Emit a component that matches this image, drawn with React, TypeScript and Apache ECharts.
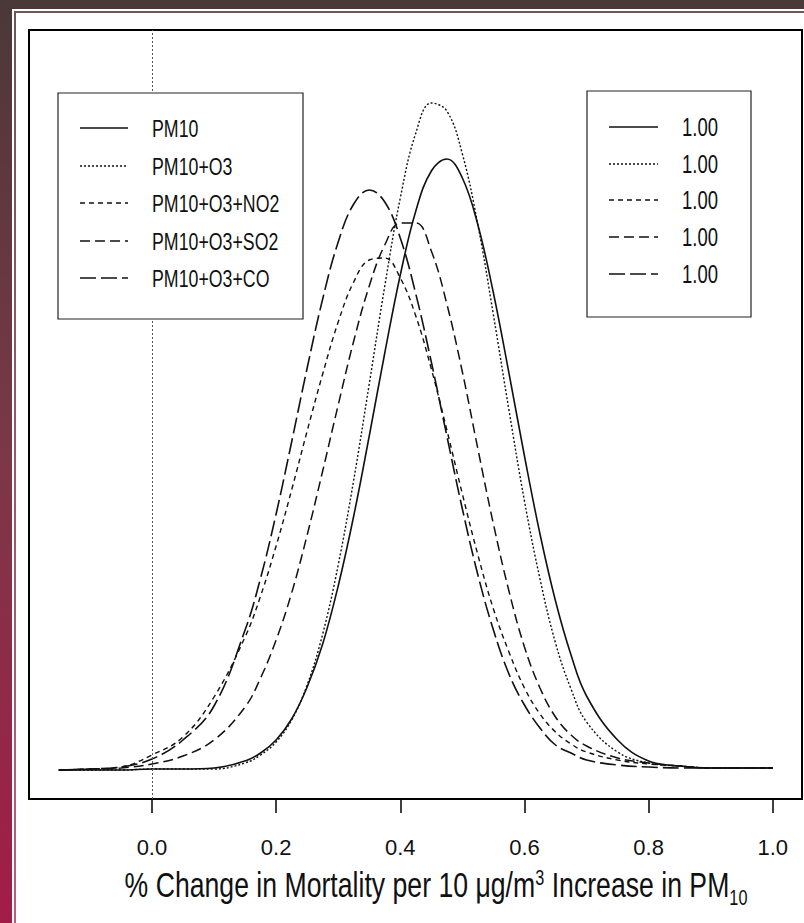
import React, { useEffect, useRef } from "react";
import * as echarts from "echarts";

// ---- data ----
const xValues = [
  -0.15, -0.1, -0.05, 0.0, 0.05, 0.1,
  0.15, 0.175, 0.2, 0.225, 0.25, 0.275, 0.3, 0.325, 0.35, 0.375, 0.4, 0.425, 0.45, 0.475,
  0.5, 0.525, 0.55, 0.575, 0.6, 0.625, 0.65, 0.675, 0.7,
  0.75, 0.8, 0.85, 0.9, 0.95, 1.0,
];

const pm10 = [
  0, 0, 0, 0.01, 0.01, 0.02,
  0.09, 0.17, 0.3, 0.51, 0.83, 1.26, 1.84, 2.54, 3.34, 4.17, 4.95, 5.59, 5.99, 6.11,
  5.92, 5.45, 4.77, 3.97, 3.14, 2.36, 1.69, 1.15, 0.74,
  0.3, 0.09, 0.04, 0.02, 0.02, 0.02,
];
const pm10O3 = [
  0, 0, 0, 0.01, 0.01, 0.01,
  0.07, 0.15, 0.28, 0.5, 0.85, 1.36, 2.05, 2.9, 3.86, 4.84, 5.72, 6.37, 6.67, 6.59,
  6.16, 5.45, 4.55, 3.6, 2.69, 1.91, 1.27, 0.81, 0.48,
  0.18, 0.07, 0.04, 0.02, 0.02, 0.02,
];
const pm10O3NO2 = [
  0, 0.01, 0.03, 0.15, 0.33, 0.73,
  1.33, 1.74, 2.24, 2.8, 3.39, 3.96, 4.48, 4.88, 5.1, 5.12, 4.92, 4.54, 4.01, 3.4,
  2.76, 2.15, 1.61, 1.18, 0.82, 0.56, 0.38, 0.26, 0.18,
  0.1, 0.06, 0.04, 0.02, 0.02, 0.02,
];
const pm10O3SO2 = [
  0, 0.01, 0.02, 0.06, 0.14, 0.3,
  0.63, 0.92, 1.3, 1.77, 2.35, 2.99, 3.65, 4.29, 4.84, 5.25, 5.47, 5.47, 5.19, 4.66,
  3.98, 3.21, 2.46, 1.79, 1.23, 0.82, 0.53, 0.35, 0.24,
  0.12, 0.07, 0.04, 0.02, 0.02, 0.02,
];
const pm10O3CO = [
  0, 0.01, 0.03, 0.11, 0.3, 0.64,
  1.4, 1.92, 2.56, 3.28, 4.02, 4.71, 5.28, 5.66, 5.8, 5.68, 5.32, 4.76, 4.08, 3.34,
  2.61, 1.95, 1.4, 0.96, 0.65, 0.42, 0.25, 0.17, 0.1,
  0.05, 0.03, 0.02, 0.02, 0.02, 0.02,
];

const seriesNames = ["PM10", "PM10+O3", "PM10+O3+NO2", "PM10+O3+SO2", "PM10+O3+CO"];
const seriesValues = [pm10, pm10O3, pm10O3NO2, pm10O3SO2, pm10O3CO];
const legendValues = ["1.00", "1.00", "1.00", "1.00", "1.00"];
const xTicks = [0, 0.2, 0.4, 0.6, 0.8, 1.0];
const axisTitleRich = "{a|% Change in Mortality per 10 μg/m}{sup|3}{a| Increase in PM}{sub|10}";

// ---- styles ----
const FONT = "'Liberation Sans', Arial, Helvetica, sans-serif";
const INK = "#111";
const NARROW = 0.74;
const dashTypes: any[] = ["solid", [2, 2], [5, 4], [10, 5], [16, 5]];
const lineWidths = [1.6, 1.4, 1.4, 1.5, 1.6];

export default function App() {
  const ref = useRef<HTMLDivElement>(null);

  useEffect(() => {
    if (!ref.current) return;
    const chart = echarts.init(ref.current, undefined, { renderer: "svg" });

    const legendGraphics: any[] = [];
    // left legend box
    legendGraphics.push({
      type: "rect",
      z: 50,
      shape: { x: 58, y: 93, width: 245, height: 226 },
      style: { fill: "#fff", stroke: "#222", lineWidth: 1.2 },
    });
    const leftRows = [128, 166, 203, 241, 278];
    seriesNames.forEach((name, i) => {
      legendGraphics.push({
        type: "line",
        z: 51,
        shape: { x1: 80, y1: leftRows[i], x2: 128, y2: leftRows[i] },
        style: {
          stroke: INK,
          lineWidth: lineWidths[i],
          lineDash: dashTypes[i] === "solid" ? null : dashTypes[i],
        },
      });
      legendGraphics.push({
        type: "text",
        z: 51,
        x: 152,
        y: leftRows[i],
        scaleX: NARROW,
        style: {
          text: name,
          fill: INK,
          fontSize: 24,
          fontFamily: FONT,
          align: "left",
          verticalAlign: "middle",
        },
      });
    });
    // right legend box
    legendGraphics.push({
      type: "rect",
      z: 50,
      shape: { x: 587, y: 91, width: 164, height: 226 },
      style: { fill: "#fff", stroke: "#222", lineWidth: 1.2 },
    });
    const rightRows = [127, 164, 200, 237, 274];
    legendValues.forEach((val, i) => {
      legendGraphics.push({
        type: "line",
        z: 51,
        shape: { x1: 609, y1: rightRows[i], x2: 658, y2: rightRows[i] },
        style: {
          stroke: INK,
          lineWidth: lineWidths[i],
          lineDash: dashTypes[i] === "solid" ? null : dashTypes[i],
        },
      });
      legendGraphics.push({
        type: "text",
        z: 51,
        x: 682,
        y: rightRows[i],
        scaleX: NARROW,
        style: {
          text: val,
          fill: INK,
          fontSize: 25,
          fontFamily: FONT,
          align: "left",
          verticalAlign: "middle",
        },
      });
    });

    // axis title (condensed like the original typeface)
    const titleGraphic = {
      type: "text",
      z: 51,
      x: 436,
      y: 888,
      scaleX: NARROW,
      style: {
        text: axisTitleRich,
        fill: INK,
        fontSize: 36,
        fontFamily: FONT,
        align: "center",
        verticalAlign: "middle",
        rich: {
          a: { fontSize: 36, fontFamily: FONT, fill: INK, lineHeight: 44, verticalAlign: "top" },
          sup: { fontSize: 22, fontFamily: FONT, fill: INK, lineHeight: 22, verticalAlign: "top" },
          sub: {
            fontSize: 22,
            fontFamily: FONT,
            fill: INK,
            lineHeight: 22,
            verticalAlign: "top",
            padding: [20, 0, 0, 0],
          },
        },
      },
    };

    const backdrop: any[] = [
      {
        type: "rect",
        z: 0,
        shape: { x: 0, y: 0, width: 804, height: 9 },
        style: { fill: "#4b3839" },
      },
      {
        type: "rect",
        z: 0,
        shape: { x: 0, y: 0, width: 12, height: 923 },
        style: {
          fill: {
            type: "linear",
            x: 0,
            y: 0,
            x2: 0,
            y2: 1,
            colorStops: [
              { offset: 0, color: "#4b3839" },
              { offset: 0.5, color: "#7c3847" },
              { offset: 1, color: "#a31c48" },
            ],
          },
        },
      },
      {
        type: "rect",
        z: 0,
        shape: { x: 14, y: 11, width: 790, height: 2 },
        style: { fill: "#6e5657" },
      },
      {
        type: "rect",
        z: 0,
        shape: { x: 14, y: 11, width: 2, height: 912 },
        style: {
          fill: {
            type: "linear",
            x: 0,
            y: 0,
            x2: 0,
            y2: 1,
            colorStops: [
              { offset: 0, color: "#6e5657" },
              { offset: 1, color: "#c4587c" },
            ],
          },
        },
      },
    ];

    const option: any = {
      animation: false,
      backgroundColor: "#ffffff",
      grid: {
        left: 29,
        top: 30,
        right: 2,
        bottom: 124,
        show: true,
        borderColor: "#000",
        borderWidth: 2,
        backgroundColor: "transparent",
        containLabel: false,
        outerBoundsMode: "none",
      },
      xAxis: {
        type: "value",
        min: -0.198,
        max: 1.047,
        axisLine: { show: false, onZero: false },
        splitLine: { show: false },
        axisTick: {
          show: true,
          inside: false,
          length: 14,
          customValues: xTicks,
          lineStyle: { color: "#000", width: 1.5 },
        },
        axisLabel: {
          show: true,
          customValues: xTicks,
          formatter: (v: number) => v.toFixed(1),
          margin: 37,
          fontSize: 22,
          fontFamily: FONT,
          color: INK,
        },
      },
      yAxis: { type: "value", min: -0.29, max: 7.4, show: false },
      series: seriesNames.map((name, i) => ({
        name,
        type: "line",
        data: xValues.map((x, j) => [x, seriesValues[i][j]]),
        showSymbol: false,
        smooth: 0.4,
        silent: true,
        z: 3,
        lineStyle: { color: INK, width: lineWidths[i], type: dashTypes[i] },
        markLine:
          i === 0
            ? {
                silent: true,
                symbol: ["none", "none"],
                label: { show: false },
                lineStyle: { color: "#555", type: [2, 2], width: 1 },
                data: [{ xAxis: 0 }],
              }
            : undefined,
      })),
      graphic: [...backdrop, ...legendGraphics, titleGraphic],
    };

    chart.setOption(option);
    return () => chart.dispose();
  }, []);

  return (
    <div
      ref={ref}
      style={{ position: "absolute", left: 0, top: 0, width: 804, height: 923 }}
    />
  );
}
